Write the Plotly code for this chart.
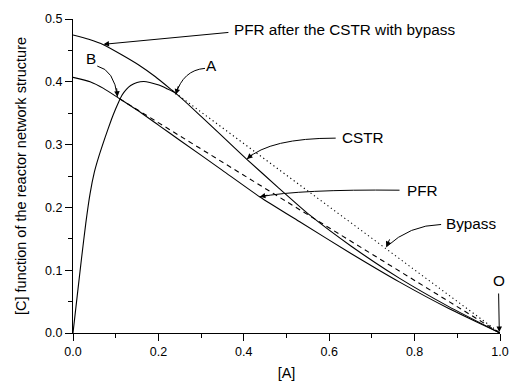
import plotly.graph_objects as go

# ---- data ----
cstr_x = [0, 0.01, 0.02, 0.03, 0.04, 0.05, 0.06, 0.075, 0.09, 0.1, 0.107, 0.115, 0.125, 0.135, 0.15,
          0.166, 0.18, 0.201, 0.22, 0.24, 0.30, 0.35, 0.4065, 0.48, 0.554, 0.65, 0.765, 0.88, 1.0]
cstr_y = [0, 0.060, 0.119, 0.175, 0.222, 0.256, 0.280, 0.311, 0.340, 0.357, 0.368, 0.379, 0.388, 0.394, 0.399,
          0.4005, 0.399, 0.3948, 0.389, 0.382, 0.345, 0.313, 0.277, 0.232, 0.188, 0.139, 0.087, 0.042, 0]

pfr_after_x = [0, 0.037, 0.0724, 0.115, 0.154, 0.193, 0.232, 0.24]
pfr_after_y = [0.4745, 0.4676, 0.4586, 0.4426, 0.4267, 0.408, 0.3865, 0.382]

pfr_x = [0, 0.04, 0.0715, 0.107, 0.15, 0.2, 0.25, 0.35, 0.437, 0.531, 0.65, 0.765, 0.88, 1.0]
pfr_y = [0.407, 0.400, 0.3895, 0.374, 0.355, 0.331, 0.307, 0.259, 0.217, 0.177, 0.127, 0.081, 0.039, 0]

mix_b_x = [0.109, 1.0]   # B -> O (dashed)
mix_b_y = [0.373, 0.0]
bypass_x = [0.24, 1.0]   # A -> O (dotted)
bypass_y = [0.382, 0.0]

x_ticks = [0.0, 0.2, 0.4, 0.6, 0.8, 1.0]
y_ticks = [0.0, 0.1, 0.2, 0.3, 0.4, 0.5]

FONT = "Liberation Sans, Arial, sans-serif"
LW = 1.1

fig = go.Figure()
fig.add_trace(go.Scatter(x=cstr_x, y=cstr_y, mode="lines", line=dict(color="black", width=LW, shape="spline", smoothing=0.5), cliponaxis=False))
fig.add_trace(go.Scatter(x=pfr_after_x, y=pfr_after_y, mode="lines", line=dict(color="black", width=LW, shape="spline", smoothing=0.5), cliponaxis=False))
fig.add_trace(go.Scatter(x=pfr_x, y=pfr_y, mode="lines", line=dict(color="black", width=LW, shape="spline", smoothing=0.5), cliponaxis=False))
fig.add_trace(go.Scatter(x=mix_b_x, y=mix_b_y, mode="lines", line=dict(color="black", width=LW, dash="5px,4px"), cliponaxis=False))
fig.add_trace(go.Scatter(x=bypass_x, y=bypass_y, mode="lines", line=dict(color="black", width=LW, dash="1.2px,3px"), cliponaxis=False))

# curved leader lines
curves = [
    "M 0.3091,0.4214 Q 0.2577,0.4187 0.2407,0.3797",   # A
    "M 0.0568,0.4251 Q 0.0965,0.4187 0.1042,0.3762",   # B
    "M 0.6152,0.3103 Q 0.461,0.3103 0.4073,0.2770",    # CSTR
    "M 0.7647,0.2274 Q 0.5311,0.2290 0.4376,0.2168",   # PFR
    "M 0.8621,0.1728 Q 0.788,0.1717 0.7336,0.1371",    # Bypass
]
shapes = [dict(type="path", path=p, xref="x", yref="y", line=dict(color="black", width=1)) for p in curves]

ann = []
def label(text, x, y, xanchor="center"):
    ann.append(dict(text=text, x=x, y=y, xref="x", yref="y", showarrow=False, xanchor=xanchor,
                    yanchor="middle", font=dict(family=FONT, size=15.3, color="black")))

def head(x, y, ax, ay):
    ann.append(dict(text="", x=x, y=y, xref="x", yref="y", ax=ax, ay=ay, showarrow=True,
                    arrowhead=2, arrowsize=1.1, arrowwidth=1, arrowcolor="black"))

def straight(x, y, tx, ty):
    ann.append(dict(text="", x=x, y=y, xref="x", yref="y", ax=tx, ay=ty, axref="x", ayref="y",
                    showarrow=True, arrowhead=2, arrowsize=1.1, arrowwidth=1, arrowcolor="black"))

label("PFR after the CSTR with bypass", 0.372, 0.4825, "left")
straight(0.0715, 0.4597, 0.3675, 0.4788)
label("A", 0.3248, 0.4267)
head(0.2407, 0.3797, 3, -10)
label("B", 0.0421, 0.4365)
head(0.1042, 0.3762, -1, -10)
label("CSTR", 0.6245, 0.3108, "left")
head(0.4073, 0.2770, 7, -6)
label("PFR", 0.7764, 0.2274, "left")
head(0.4376, 0.2168, 9, -2)
label("Bypass", 0.8698, 0.1748, "left")
head(0.7336, 0.1371, 4, -9)
label("O", 0.9967, 0.084)
straight(0.9984, 0.0016, 0.9967, 0.0653)

fig.update_layout(
    width=509, height=381,
    margin=dict(l=73, r=9, t=19, b=48),
    paper_bgcolor="white", plot_bgcolor="white",
    showlegend=False,
    font=dict(family=FONT, color="black"),
    shapes=shapes, annotations=ann,
    xaxis=dict(range=[0, 1], tickvals=x_ticks, ticktext=[f"{v:.1f}" for v in x_ticks], automargin=False,
               showgrid=False, zeroline=False, showline=True, linecolor="black", linewidth=1.3,
               ticks="outside", ticklen=7, tickwidth=1.2, tickcolor="black",
               minor=dict(dtick=0.1, ticks="outside", ticklen=4, tickwidth=1.2, tickcolor="black", showgrid=False),
               tickfont=dict(size=12.5, family=FONT, color="black"),
               title=dict(text="[A]", font=dict(size=14.5, family=FONT, color="black"), standoff=11)),
    yaxis=dict(range=[0, 0.5], tickvals=y_ticks, ticktext=[f"{v:.1f}" for v in y_ticks], automargin=False,
               showgrid=False, zeroline=False, showline=True, linecolor="black", linewidth=1.3,
               ticks="outside", ticklen=7, tickwidth=1.2, tickcolor="black",
               minor=dict(dtick=0.05, ticks="outside", ticklen=4, tickwidth=1.2, tickcolor="black", showgrid=False),
               tickfont=dict(size=12.5, family=FONT, color="black"),
               title=dict(text="[C] function of the reactor network structure",
                          font=dict(size=14.5, family=FONT, color="black"), standoff=14)),
)

fig.write_html("out.html")
